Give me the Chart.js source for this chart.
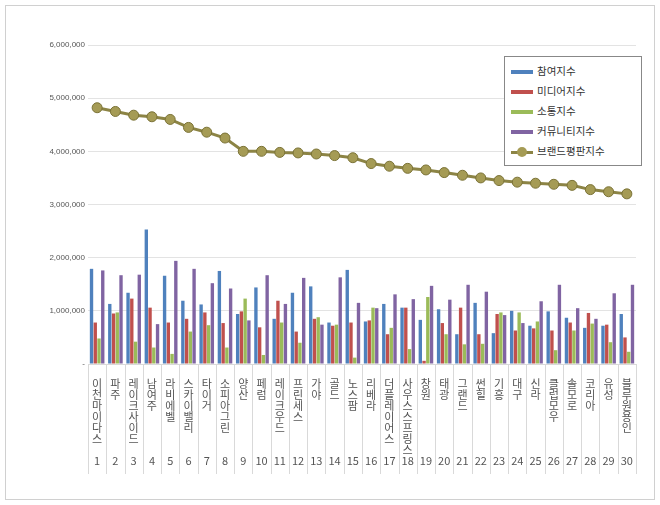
<!DOCTYPE html>
<html><head><meta charset="utf-8">
<script src="https://cdn.jsdelivr.net/npm/chart.js@4.4.0/dist/chart.umd.min.js"></script>
<style>
body{margin:0;background:#fff;font-family:"Noto Sans CJK KR",sans-serif;}
#wrap{position:absolute;left:5px;top:5px;width:648px;height:493px;border:1px solid #d0d0d0;}
#legend{position:absolute;left:498px;top:50px;width:136px;border:1px solid #888;background:#fff;padding:4px 0;font-size:10.5px;color:#333;}
#legend div{height:20px;line-height:20px;padding-left:6px;white-space:nowrap;}
#legend span.sw{display:inline-block;width:22px;height:4px;vertical-align:middle;margin-right:4px;}
</style></head><body>
<div id="wrap"><canvas id="c" width="648" height="493"></canvas>
<div id="legend"></div></div>
<script>
const names=["이천마이다스","파주","레이크사이드","남여주","라비에벨","스카이밸리","타이거","소피아그린","양산","페럼","레이크우드","프린세스","가야","골드","노스팜","리베라","더플레이어스","사우스스프링스","창원","태광","그랜드","썬힐","기흥","대구","신라","클럽모우","솔모로","코리아","유성","블루원용인"];
const participation=[1.79,1.13,1.34,2.53,1.66,1.19,1.12,1.75,0.94,1.44,0.85,1.34,1.46,0.78,1.77,0.80,1.13,1.06,0.83,1.03,0.56,1.15,0.58,1.00,0.72,0.99,0.87,0.68,0.72,0.94];
const media=[0.78,0.95,1.23,1.06,0.78,0.85,0.97,0.77,0.99,0.69,1.19,0.61,0.85,0.72,0.78,0.82,0.56,1.06,0.06,0.77,1.06,0.56,0.94,0.63,0.67,0.63,0.78,0.96,0.74,0.50];
const communication=[0.48,0.97,0.42,0.31,0.19,0.61,0.73,0.31,1.23,0.17,0.78,0.40,0.88,0.74,0.12,1.06,0.68,0.28,1.26,0.56,0.37,0.38,0.97,0.97,0.80,0.26,0.63,0.76,0.41,0.23];
const community=[1.76,1.67,1.68,0.75,1.94,1.79,1.52,1.42,0.82,1.67,1.13,1.62,0.74,1.63,1.15,1.05,1.31,1.22,1.47,1.21,1.49,1.36,0.92,0.77,1.18,1.49,1.05,0.85,1.33,1.49];
const brand=[4.82,4.75,4.68,4.65,4.60,4.45,4.36,4.25,4.00,4.00,3.98,3.97,3.95,3.92,3.88,3.77,3.72,3.68,3.65,3.60,3.55,3.50,3.45,3.42,3.40,3.38,3.36,3.28,3.24,3.20];
const seriesNames=["참여지수","미디어지수","소통지수","커뮤니티지수","브랜드평판지수"];
const colors=["#4F81BD","#C0504D","#9BBB59","#8064A2","#8C8445"];
const M=v=>v.map(x=>Math.round(x*1e6));
const labels=names.map((n,i)=>{const a=[...n];while(a.length<7)a.push('');a.push(String(i+1));return a;});
const sep={id:'sep',afterDraw(ch){const x=ch.scales.x,c=ch.ctx,b=ch.chartArea.bottom;c.save();c.strokeStyle='#d9d9d9';c.lineWidth=1;const w=x.getPixelForValue(1)-x.getPixelForValue(0);for(let i=0;i<=names.length;i++){const px=Math.round(x.getPixelForValue(0)-w/2+i*w)+0.5;c.beginPath();c.moveTo(px,b);c.lineTo(px,b+110);c.stroke();}c.restore();}};
const ds=[participation,media,communication,community].map((d,i)=>({type:'bar',label:seriesNames[i],data:M(d),backgroundColor:colors[i],categoryPercentage:0.82,barPercentage:0.9,order:2}));
ds.push({type:'line',label:seriesNames[4],data:M(brand),borderColor:'#8C8445',borderWidth:3,pointRadius:5,pointBackgroundColor:'#A59B55',pointBorderColor:'#7A7236',pointBorderWidth:1,order:1});
new Chart(document.getElementById('c'),{data:{labels,datasets:ds},plugins:[sep],options:{responsive:false,animation:false,
layout:{padding:{top:39,right:18,bottom:27,left:0}},
plugins:{legend:{display:false},tooltip:{enabled:false}},
scales:{x:{grid:{display:false},border:{color:'#d9d9d9'},ticks:{autoSkip:false,maxRotation:0,minRotation:0,color:'#555',padding:6,font:{size:11,family:'"Noto Sans CJK KR"',lineHeight:1.0}}},
y:{min:0,max:6000000,afterFit(s){s.width=82;},ticks:{stepSize:1000000,color:'#555',font:{size:8},callback:v=>v===0?'-':v.toLocaleString('en-US')},grid:{color:'#e3e3e3',drawTicks:false},border:{display:false}}}}});
const lg=document.getElementById('legend');
seriesNames.forEach((n,i)=>{const d=document.createElement('div');
d.innerHTML=i<4?`<span class="sw" style="background:${colors[i]}"></span>${n}`:`<span class="sw" style="background:${colors[4]};height:3px;position:relative"><span style="position:absolute;left:6px;top:-4px;width:10px;height:10px;border-radius:50%;background:#A59B55"></span></span>${n}`;lg.appendChild(d);});
</script></body></html>
